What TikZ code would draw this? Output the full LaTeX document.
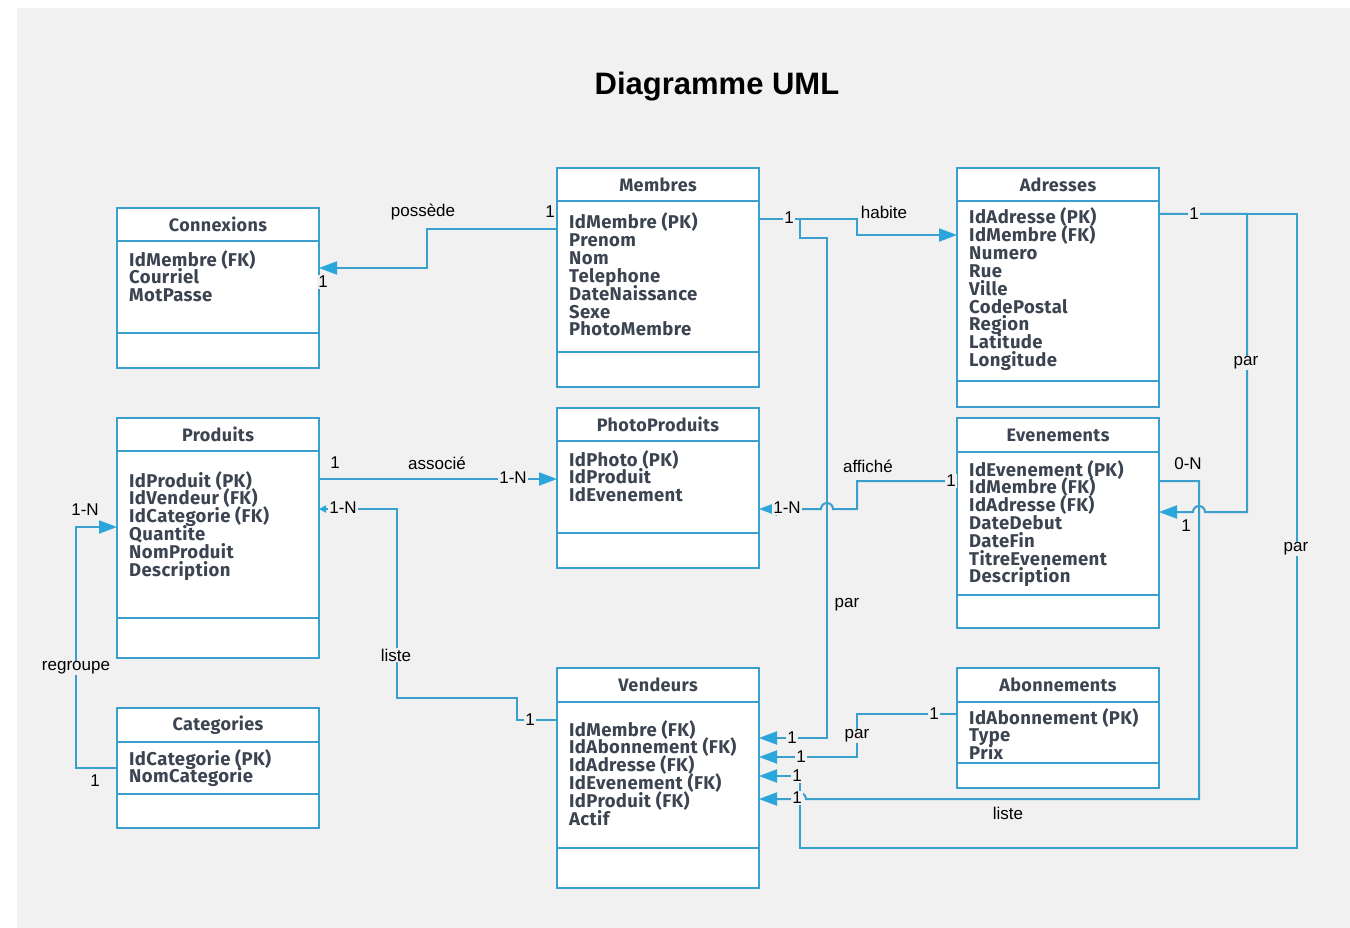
\documentclass[tikz,border=0pt]{standalone}
\usepackage{fontspec}
\setmainfont{Liberation Sans}
\newfontfamily\tablefont[LetterSpace=2]{Fira Sans}
\usetikzlibrary{arrows.meta}
\definecolor{umlblue}{HTML}{3A9FCC}
\definecolor{tipblue}{HTML}{2BA6DD}
\definecolor{bggray}{HTML}{F1F1F1}
\definecolor{textgray}{HTML}{3B4450}
\tikzset{
  tablebox/.style={draw=umlblue, line width=2pt, fill=white, inner sep=0pt, outer sep=0pt, minimum width=202pt, anchor=north west},
  tableline/.style={draw=umlblue, line width=2pt},
  headtext/.style={font=\tablefont\bfseries\fontsize{18}{20}\selectfont, text=textgray, inner sep=0pt},
  attrtext/.style={font=\tablefont\bfseries\fontsize{18.5}{20}\selectfont, text=textgray, inner sep=0pt, anchor=base west},
  link/.style={draw=umlblue, line width=2pt},
  endtip/.style={-{Triangle[length=18pt,width=13pt,color=tipblue]}},
  smallendtip/.style={-{Triangle[length=7pt,width=7pt,color=tipblue]}},
  lab/.style={font=\fontsize{17}{19}\selectfont, fill=bggray, inner sep=1pt},
}
\newcommand{\umltable}[9]{%
  \node[tablebox, minimum height={(#7-#4)*1pt}] (#1) at (#3,#4) {};
  \draw[tableline] (#3,#5) -- ++(202,0);
  \draw[tableline] (#3,#6) -- ++(202,0);
  \node[headtext] (#1-head) at ({#3+101},{(#4+#5)/2}) {#2};
  \foreach \field [count=\i] in {#9}
    \node[attrtext] (#1-a\i) at ({#3+12},{#8+(\i-1)*17.8}) {\field};
}
\begin{document}
\begin{tikzpicture}[x=1pt,y=-1pt]
                        \useasboundingbox (0,0) rectangle (1350,928);
                        \fill[white] (0,0) rectangle (1350,928);
                        \fill[bggray] (17,8) rectangle (1350,928);
                        \node[font=\bfseries\fontsize{31}{37}\selectfont] (title) at (717,87) {Diagramme UML};
                        \umltable{connexions}{Connexions}{117}{208}{241}{333}{368}{266}{IdMembre (FK),Courriel,MotPasse}
                        \umltable{membres}{Membres}{557}{168}{201}{352}{387}{229}{IdMembre (PK),Prenom,Nom,Telephone,DateNaissance,Sexe,PhotoMembre}
                        \umltable{adresses}{Adresses}{957}{168}{201}{381}{407}{224}{IdAdresse (PK),IdMembre (FK),Numero,Rue,Ville,CodePostal,Region,Latitude,Longitude}
                        \umltable{produits}{Produits}{117}{418}{451}{618}{658}{487}{IdProduit (PK),IdVendeur (FK),IdCategorie (FK),Quantite,NomProduit,Description}
                        \umltable{photoproduits}{PhotoProduits}{557}{408}{441}{533}{568}{466}{IdPhoto (PK),IdProduit,IdEvenement}
                        \umltable{evenements}{Evenements}{957}{418}{452}{595}{628}{476}{IdEvenement (PK),IdMembre (FK),IdAdresse (FK),DateDebut,DateFin,TitreEvenement,Description}
                        \umltable{categories}{Categories}{117}{708}{742}{794}{828}{765}{IdCategorie (PK),NomCategorie}
                        \umltable{vendeurs}{Vendeurs}{557}{668}{702}{848}{888}{736}{IdMembre (FK),IdAbonnement (FK),IdAdresse (FK),IdEvenement (FK),IdProduit (FK),Actif}
                        \umltable{abonnements}{Abonnements}{957}{668}{702}{763}{788}{724}{IdAbonnement (PK),Type,Prix}
                        \draw[link,endtip] (membres.west |- 0,229) -| (427,268) -- (connexions.east |- 0,268);
                        \draw[link,endtip] (membres.east |- 0,219) -| (857,235) -- (adresses.west |- 0,235);
                        \draw[link,endtip] (membres.east |- 0,219) -- (800,219) |- (827,238) |- (vendeurs.east |- 0,738);
                        \draw[link,endtip] (produits.east |- 0,479) -- (photoproduits.west |- 0,479);
                        \draw[link,endtip] (evenements.west |- 0,481) -| (857,509) -- (833,509) arc[start angle=0,end angle=-180,radius=6] -- (photoproduits.east |- 0,509);
                        \draw[link,smallendtip] (vendeurs.west |- 0,720) -| (517,698) -| (397,509) -- (produits.east |- 0,509);
                        \draw[link,endtip] (categories.west |- 0,768) -| (76,527) -- (produits.west |- 0,527);
                        \draw[link,endtip] (adresses.east |- 0,214) -| (1247,512) -- (1205,512) arc[start angle=0,end angle=-180,radius=6] -- (evenements.east |- 0,512);
                        \draw[link,endtip] (adresses.east |- 0,214) -| (1297,848) -| (800,776) -- (vendeurs.east |- 0,776);
                        \draw[link,endtip] (evenements.east |- 0,481) -| (1199,799) -- (806,799) arc[start angle=0,end angle=-180,radius=6] -- (vendeurs.east |- 0,799);
                        \draw[link,endtip] (abonnements.west |- 0,714) -| (857,757) -- (vendeurs.east |- 0,757);
                        \node[lab] (l-possede) at (423,212) {possède};
                        \node[lab] (l-possede-a) at (550,212) {1};
                        \node[lab] (l-possede-b) at (323,282) {1};
                        \node[lab] (l-habite-a) at (789,218) {1};
                        \node[lab] (l-habite) at (884,212) {habite};
                        \node[lab] (l-parmem-a) at (792,738) {1};
                        \node[lab] (l-parmem) at (847,605) {par};
                        \node[lab] (l-associe-a) at (335,463) {1};
                        \node[lab] (l-associe) at (437,463) {associé};
                        \node[lab] (l-associe-b) at (513,478) {1-N};
                        \node[lab] (l-affiche) at (868,466) {affiché};
                        \node[lab] (l-affiche-a) at (951,481) {1};
                        \node[lab] (l-affiche-b) at (787,508) {1-N};
                        \node[lab] (l-listeprod-a) at (530,720) {1};
                        \node[lab] (l-listeprod) at (396,655) {liste};
                        \node[lab] (l-listeprod-b) at (343,508) {1-N};
                        \node[lab] (l-regroupe-b) at (85,510) {1-N};
                        \node[lab] (l-regroupe) at (76,668) {regroupe};
                        \node[lab] (l-regroupe-a) at (95,781) {1};
                        \node[lab] (l-parevt-a) at (1194,214) {1};
                        \node[lab] (l-parevt) at (1246,363) {par};
                        \node[lab] (l-parevt-b) at (1186,526) {1};
                        \node[lab] (l-paradr) at (1296,549) {par};
                        \node[lab] (l-paradr-b) at (797,776) {1};
                        \node[lab] (l-listeevt-a) at (1188,464) {0-N};
                        \node[lab] (l-listeevt) at (1008,813) {liste};
                        \node[lab] (l-listeevt-b) at (797,798) {1};
                        \node[lab] (l-parabo-a) at (934,714) {1};
                        \node[lab] (l-parabo) at (857,736) {par};
                        \node[lab] (l-parabo-b) at (801,757) {1};
                     \end{tikzpicture}
\end{document}
